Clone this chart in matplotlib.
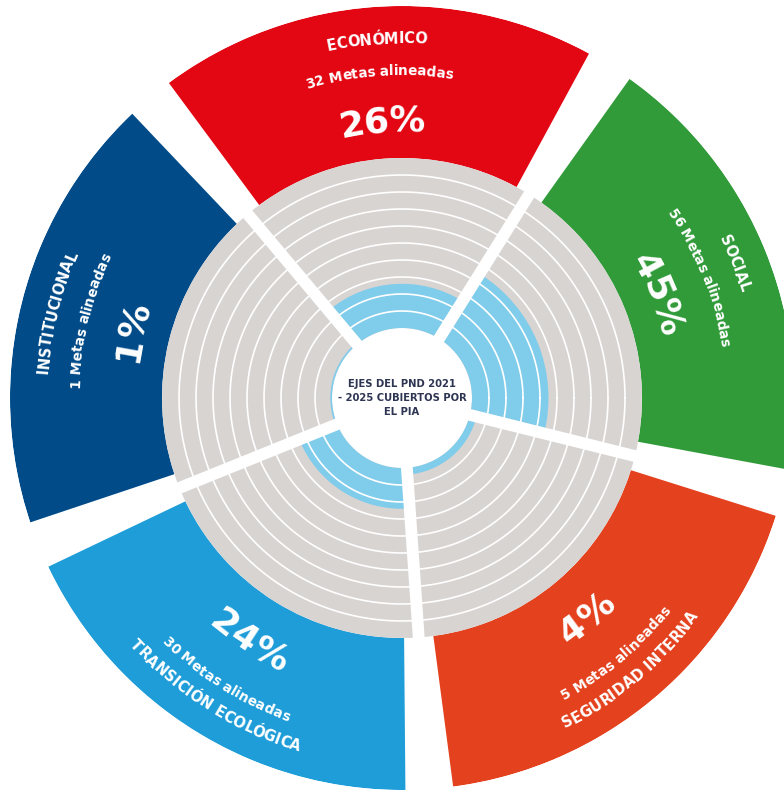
import numpy as np
import matplotlib.pyplot as plt
from matplotlib.font_manager import FontProperties
from matplotlib.textpath import TextPath

# Ejes del PND y metas alineadas
ejes = ['ECONÓMICO', 'SOCIAL', 'SEGURIDAD INTERNA', 'TRANSICIÓN ECOLÓGICA', 'INSTITUCIONAL']
metas = [32, 56, 5, 30, 1]
porcentaje = [26, 45, 4, 24, 1]
colores = ['#E30613', '#319B3A', '#E4411E', '#1E9DD9', '#004B88']
angulos = [94, 22, 310, 238, 166]   # centro de cada sector (grados)

R_IN, R_MID, R_OUT = 70, 240, 392
N_ANILLOS = 10
GRIS = '#D8D4D2'
CELESTE = '#7FCCEB'
DPI = 100


def centros_letras(txt, prop):
    # centro de tinta de cada letra respecto al centro del texto, en pixeles
    size = prop.get_size_in_points() * DPI / 72

    def ext(s):
        return TextPath((0, 0), s, size=size, prop=prop).get_extents()

    ref = ext('I').x1
    total = ext(txt)
    medio = (total.x0 + total.x1) / 2
    centros = []
    for i, ch in enumerate(txt):
        if ch == ' ':
            centros.append(None)
            continue
        pen = ext(txt[:i] + 'I').x1 - ref if i > 0 else 0.0
        e = ext(ch)
        centros.append(pen + (e.x0 + e.x1) / 2 - medio)
    return centros


def texto_curvo(ax, txt, ang, r, fs, arriba):
    prop = FontProperties(family='DejaVu Sans', weight='bold', size=fs)
    cap = 0.73 * fs * DPI / 72
    for ch, sc in zip(txt, centros_letras(txt, prop)):
        if sc is None:
            continue
        if arriba:
            th = np.deg2rad(ang) - sc / r
            rot = np.rad2deg(th) - 90
            rb = r - cap / 2
        else:
            th = np.deg2rad(ang) + sc / r
            rot = np.rad2deg(th) + 90
            rb = r + cap / 2
        ax.text(th, rb, ch, rotation=rot, rotation_mode='anchor', ha='center',
                va='baseline', fontproperties=prop, color='white')


W, H = 784, 791
cx, cy = 402, H - 398
fig = plt.figure(figsize=(W / DPI, H / DPI), dpi=DPI)
ax = fig.add_axes([(cx - R_OUT) / W, (cy - R_OUT) / H, 2 * R_OUT / W, 2 * R_OUT / H],
                  projection='polar')
ax.set_ylim(0, R_OUT)
ax.axis('off')

theta = np.deg2rad(angulos)
sector = np.deg2rad(72)

# sectores de color exteriores
ax.bar(theta, R_OUT - R_MID, width=np.deg2rad(65), bottom=R_MID, color=colores,
       edgecolor='none')
# anillos grises
ax.bar(theta, R_MID - R_IN, width=sector, bottom=R_IN, color=GRIS, edgecolor='none')
# barras celestes (porcentaje)
alto = np.array(porcentaje) / 100 * (R_MID - R_IN)
ax.bar(theta, alto, width=sector, bottom=R_IN, color=CELESTE, edgecolor='none')

# lineas blancas entre anillos
t = np.linspace(0, 2 * np.pi, 500)
paso = (R_MID - R_IN) / N_ANILLOS
for k in range(1, N_ANILLOS):
    ax.plot(t, np.full_like(t, R_IN + k * paso), color='white', lw=1.2)

# separaciones blancas entre sectores
for a in theta + sector / 2:
    ax.plot([a, a], [0, R_MID + 5], color='white', lw=8.5, solid_capstyle='butt')

# texto central
ax.text(0, 0, 'EJES DEL PND 2021\n- 2025 CUBIERTOS POR\nEL PIA', ha='center',
        va='center', fontsize=7.2, fontweight='bold', color='#2E3552', linespacing=1.45)

# etiquetas de cada sector
for nombre, m, p, a in zip(ejes, metas, porcentaje, angulos):
    arriba = 0 < a < 200
    radios = [360, 328, 280] if arriba else [363, 338, 285]
    textos = [nombre, f'{m} Metas alineadas', f'{p}%']
    tamanos = [10.5, 9.8, 26]
    for txt, r, fs in zip(textos, radios, tamanos):
        texto_curvo(ax, txt, a, r, fs, arriba)

fig.savefig('out.png', dpi=DPI, facecolor='white')
